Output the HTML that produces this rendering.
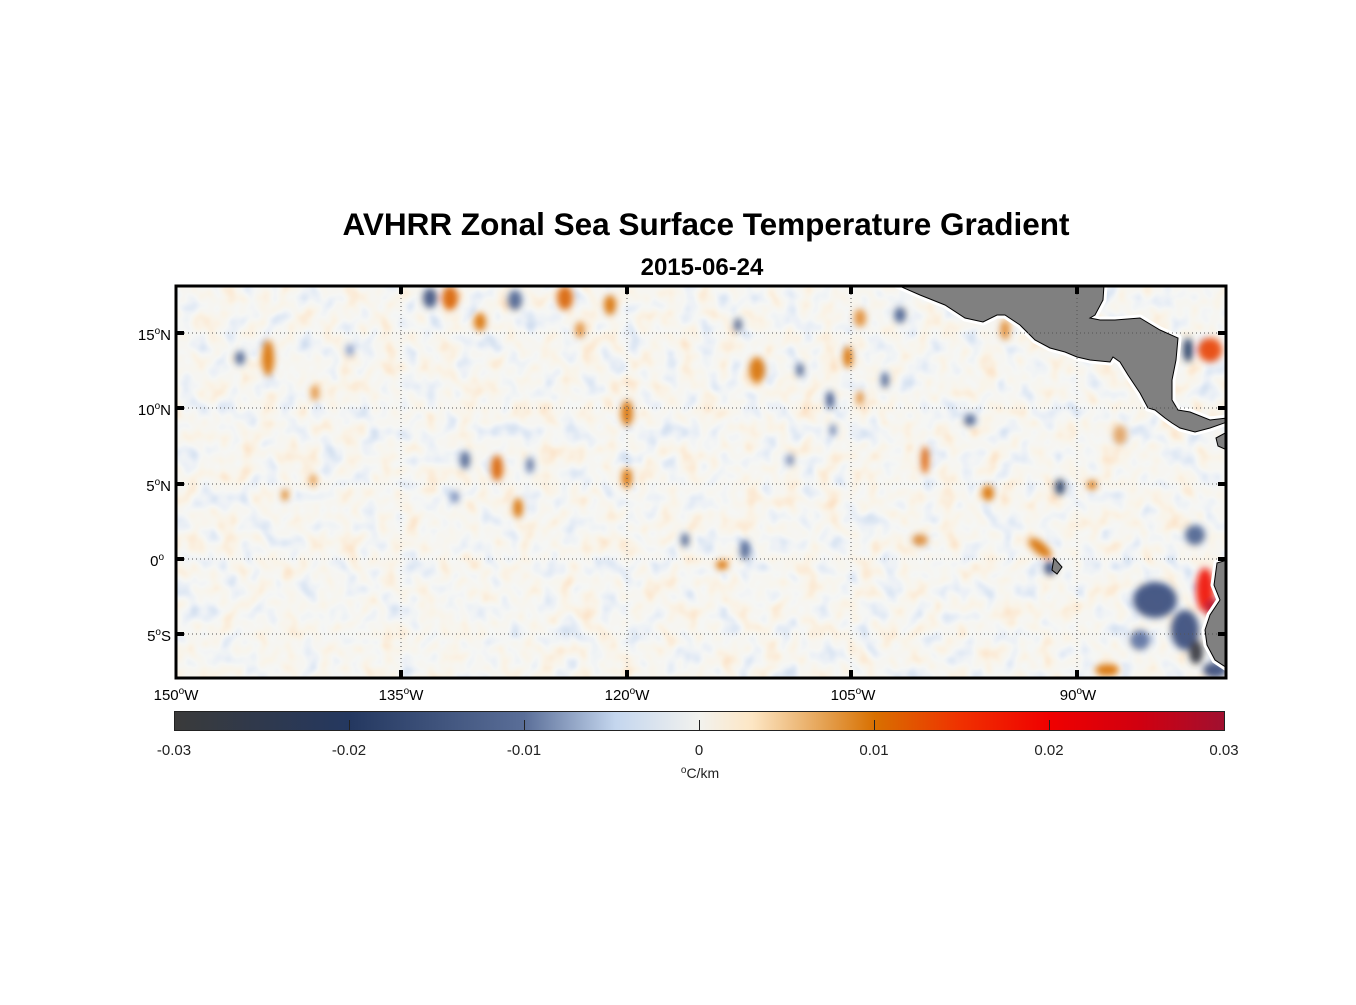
<!DOCTYPE html>
<html><head><meta charset="utf-8"><style>
body{margin:0;background:#fff;width:1356px;height:1000px;overflow:hidden;font-family:"Liberation Sans",sans-serif;}
</style></head><body>
<svg width="1356" height="1000" xmlns="http://www.w3.org/2000/svg" font-family="Liberation Sans, sans-serif">
<defs>
<filter id="b" x="-50%" y="-50%" width="200%" height="200%"><feGaussianBlur stdDeviation="3.5"/></filter>
<filter id="tex" x="0" y="0" width="100%" height="100%">
<feTurbulence type="fractalNoise" baseFrequency="0.05 0.045" numOctaves="2" seed="7" result="n"/>
<feColorMatrix in="n" type="matrix" values="1 0 0 0 0  1 0 0 0 0  1 0 0 0 0  0 0 0 0 1"/>
<feComponentTransfer>
<feFuncR type="table" tableValues="0.55 0.62 0.72 0.84 0.93 0.96 0.99 1 1 1"/>
<feFuncG type="table" tableValues="0.66 0.72 0.8 0.88 0.94 0.93 0.89 0.82 0.74 0.66"/>
<feFuncB type="table" tableValues="0.85 0.88 0.92 0.95 0.93 0.86 0.76 0.64 0.52 0.42"/>
</feComponentTransfer>
</filter>
<linearGradient id="cb" x1="0" x2="1" y1="0" y2="0">
<stop offset="0" stop-color="#3a3a3a"/><stop offset="0.167" stop-color="#243860"/>
<stop offset="0.333" stop-color="#5a6e98"/><stop offset="0.42" stop-color="#c4d6ee"/>
<stop offset="0.5" stop-color="#f2f2ee"/><stop offset="0.55" stop-color="#fde6c4"/>
<stop offset="0.62" stop-color="#e4a050"/><stop offset="0.667" stop-color="#d87000"/>
<stop offset="0.75" stop-color="#f03000"/><stop offset="0.833" stop-color="#f00000"/>
<stop offset="0.92" stop-color="#d00010"/><stop offset="1" stop-color="#a01030"/>
</linearGradient>
<clipPath id="m"><rect x="176" y="286" width="1050" height="392"/></clipPath>
</defs>
<text x="706" y="235" font-size="31.5" font-weight="bold" text-anchor="middle">AVHRR Zonal Sea Surface Temperature Gradient</text>
<text x="702" y="275" font-size="24" font-weight="bold" text-anchor="middle">2015-06-24</text>
<g clip-path="url(#m)">
<rect x="176" y="286" width="1050" height="392" fill="#eef0ed"/>
<rect x="176" y="286" width="1050" height="392" filter="url(#tex)" opacity="0.8"/>
<g filter="url(#b)" opacity="0.9">
<ellipse cx="268" cy="358" rx="6" ry="18" fill="#d87000"/>
<ellipse cx="315" cy="393" rx="4" ry="8" fill="#e08a30"/>
<ellipse cx="450" cy="298" rx="8" ry="12" fill="#d86000"/>
<ellipse cx="480" cy="322" rx="6" ry="9" fill="#d87000"/>
<ellipse cx="497" cy="468" rx="6" ry="13" fill="#d86000"/>
<ellipse cx="518" cy="508" rx="5" ry="10" fill="#d87000"/>
<ellipse cx="565" cy="298" rx="8" ry="12" fill="#d86000"/>
<ellipse cx="610" cy="305" rx="6" ry="10" fill="#d87000"/>
<ellipse cx="580" cy="330" rx="5" ry="8" fill="#e08a30"/>
<ellipse cx="627" cy="413" rx="6" ry="13" fill="#d87000"/>
<ellipse cx="627" cy="478" rx="5" ry="10" fill="#d87000"/>
<ellipse cx="757" cy="370" rx="8" ry="13" fill="#d87000"/>
<ellipse cx="848" cy="357" rx="5" ry="11" fill="#d87000"/>
<ellipse cx="860" cy="398" rx="4" ry="7" fill="#e08a30"/>
<ellipse cx="860" cy="318" rx="6" ry="9" fill="#e08a30"/>
<ellipse cx="925" cy="460" rx="4" ry="14" fill="#e06000"/>
<ellipse cx="988" cy="493" rx="6" ry="8" fill="#d87000"/>
<ellipse cx="1040" cy="548" rx="14" ry="6" transform="rotate(40 1040 548)" fill="#d87000"/>
<ellipse cx="1092" cy="485" rx="5" ry="5" fill="#d87000"/>
<ellipse cx="1005" cy="330" rx="5" ry="10" fill="#e08a30"/>
<ellipse cx="1120" cy="435" rx="7" ry="10" fill="#e0a060"/>
<ellipse cx="1210" cy="350" rx="12" ry="12" fill="#e84000"/>
<ellipse cx="1205" cy="590" rx="9" ry="22" fill="#f01000"/>
<ellipse cx="1214" cy="608" rx="9" ry="9" fill="#b01028"/>
<ellipse cx="1107" cy="670" rx="12" ry="6" fill="#d87000"/>
<ellipse cx="722" cy="565" rx="6" ry="5" fill="#d87000"/>
<ellipse cx="920" cy="540" rx="8" ry="6" fill="#e08a30"/>
<ellipse cx="285" cy="495" rx="3" ry="6" fill="#d87000"/>
<ellipse cx="313" cy="480" rx="3" ry="6" fill="#e08a30"/>
<ellipse cx="240" cy="358" rx="5" ry="7" fill="#4a6090"/>
<ellipse cx="430" cy="298" rx="7" ry="10" fill="#3a5080"/>
<ellipse cx="515" cy="300" rx="7" ry="10" fill="#4a6090"/>
<ellipse cx="465" cy="460" rx="5" ry="9" fill="#4a6090"/>
<ellipse cx="530" cy="465" rx="4" ry="8" fill="#5a70a0"/>
<ellipse cx="830" cy="400" rx="4" ry="9" fill="#3a5080"/>
<ellipse cx="833" cy="430" rx="3" ry="6" fill="#5a70a0"/>
<ellipse cx="1060" cy="487" rx="5" ry="8" fill="#243860"/>
<ellipse cx="1050" cy="568" rx="6" ry="7" fill="#3a5080"/>
<ellipse cx="1188" cy="350" rx="5" ry="12" fill="#243860"/>
<ellipse cx="1155" cy="600" rx="22" ry="18" fill="#34487a"/>
<ellipse cx="1185" cy="630" rx="14" ry="20" fill="#34487a"/>
<ellipse cx="1196" cy="652" rx="7" ry="12" fill="#303038"/>
<ellipse cx="1140" cy="640" rx="10" ry="10" fill="#5a70a0"/>
<ellipse cx="1195" cy="535" rx="10" ry="10" fill="#4a6090"/>
<ellipse cx="1215" cy="670" rx="12" ry="8" fill="#34487a"/>
<ellipse cx="745" cy="550" rx="5" ry="10" fill="#4a6090"/>
<ellipse cx="685" cy="540" rx="4" ry="7" fill="#4a6090"/>
<ellipse cx="970" cy="420" rx="6" ry="6" fill="#4a6090"/>
<ellipse cx="885" cy="380" rx="4" ry="8" fill="#4a6090"/>
<ellipse cx="738" cy="325" rx="4" ry="7" fill="#4a6090"/>
<ellipse cx="800" cy="370" rx="4" ry="7" fill="#4a6090"/>
<ellipse cx="900" cy="315" rx="6" ry="8" fill="#4a6090"/>
<ellipse cx="790" cy="460" rx="4" ry="6" fill="#6a80b0"/>
<ellipse cx="455" cy="497" rx="4" ry="6" fill="#6a80b0"/>
<ellipse cx="350" cy="350" rx="4" ry="6" fill="#7a90c0"/>
</g>
<g fill="#808080" stroke="#fff" stroke-width="7" stroke-linejoin="round">
<path d="M897,285 L920,295 L945,305 L965,318 L983,322 L997,315 L1005,315 L1020,325 L1035,340 L1050,348 L1065,352 L1077,357 L1090,360 L1110,362 L1113,357 L1120,362 L1128,375 L1140,393 L1148,408 L1155,410 L1165,418 L1172,423 L1180,428 L1195,432 L1210,428 L1227,422 L1227,418 L1210,420 L1190,412 L1178,410 L1172,400 L1172,380 L1176,360 L1178,338 L1160,330 L1140,318 L1115,320 L1100,320 L1090,318 L1095,315 L1103,300 L1104,285 Z"/>
<path d="M1227,560 L1217,563 L1214,585 L1220,600 L1210,615 L1205,630 L1207,645 L1215,660 L1227,668 Z"/>
</g>
<path d="M897,285 L920,295 L945,305 L965,318 L983,322 L997,315 L1005,315 L1020,325 L1035,340 L1050,348 L1065,352 L1077,357 L1090,360 L1110,362 L1113,357 L1120,362 L1128,375 L1140,393 L1148,408 L1155,410 L1165,418 L1172,423 L1180,428 L1195,432 L1210,428 L1227,422 L1227,418 L1210,420 L1190,412 L1178,410 L1172,400 L1172,380 L1176,360 L1178,338 L1160,330 L1140,318 L1115,320 L1100,320 L1090,318 L1095,315 L1103,300 L1104,285 Z" fill="#808080" stroke="#000" stroke-width="1"/>
<path d="M1216,438 L1227,432 L1227,450 L1218,446 Z" fill="#808080" stroke="#000"/>
<path d="M1227,560 L1217,563 L1214,585 L1220,600 L1210,615 L1205,630 L1207,645 L1215,660 L1227,668 Z" fill="#808080" stroke="#000"/>
<path d="M1054,558 L1062,567 L1057,574 L1052,570 Z" fill="#808080" stroke="#000"/>
<g stroke="#555" stroke-width="1" stroke-dasharray="1,3">
<line x1="401" y1="286" x2="401" y2="678"/><line x1="627" y1="286" x2="627" y2="678"/>
<line x1="851" y1="286" x2="851" y2="678"/><line x1="1077" y1="286" x2="1077" y2="678"/>
<line x1="176" y1="333" x2="1226" y2="333"/><line x1="176" y1="408" x2="1226" y2="408"/>
<line x1="176" y1="484" x2="1226" y2="484"/><line x1="176" y1="559" x2="1226" y2="559"/>
<line x1="176" y1="634" x2="1226" y2="634"/>
</g>
</g>
<rect x="176" y="286" width="1050" height="392" fill="none" stroke="#000" stroke-width="3"/>
<g stroke="#000" stroke-width="4">
<line x1="401" y1="286" x2="401" y2="294"/><line x1="627" y1="286" x2="627" y2="294"/><line x1="851" y1="286" x2="851" y2="294"/><line x1="1077" y1="286" x2="1077" y2="294"/>
<line x1="401" y1="670" x2="401" y2="678"/><line x1="627" y1="670" x2="627" y2="678"/><line x1="851" y1="670" x2="851" y2="678"/><line x1="1077" y1="670" x2="1077" y2="678"/>
<line x1="176" y1="333" x2="184" y2="333"/><line x1="176" y1="408" x2="184" y2="408"/><line x1="176" y1="484" x2="184" y2="484"/><line x1="176" y1="559" x2="184" y2="559"/><line x1="176" y1="634" x2="184" y2="634"/>
<line x1="1218" y1="333" x2="1226" y2="333"/><line x1="1218" y1="408" x2="1226" y2="408"/><line x1="1218" y1="484" x2="1226" y2="484"/><line x1="1218" y1="559" x2="1226" y2="559"/><line x1="1218" y1="634" x2="1226" y2="634"/>
</g>
<g font-size="15" text-anchor="end">
<text x="171" y="340">15<tspan dy="-6" font-size="10">o</tspan><tspan dy="6">N</tspan></text>
<text x="171" y="415">10<tspan dy="-6" font-size="10">o</tspan><tspan dy="6">N</tspan></text>
<text x="171" y="491">5<tspan dy="-6" font-size="10">o</tspan><tspan dy="6">N</tspan></text>
<text x="164" y="566">0<tspan dy="-6" font-size="10">o</tspan></text>
<text x="171" y="641">5<tspan dy="-6" font-size="10">o</tspan><tspan dy="6">S</tspan></text>
</g>
<g font-size="15" text-anchor="middle">
<text x="176" y="700">150<tspan dy="-6" font-size="10">o</tspan><tspan dy="6">W</tspan></text>
<text x="401" y="700">135<tspan dy="-6" font-size="10">o</tspan><tspan dy="6">W</tspan></text>
<text x="627" y="700">120<tspan dy="-6" font-size="10">o</tspan><tspan dy="6">W</tspan></text>
<text x="853" y="700">105<tspan dy="-6" font-size="10">o</tspan><tspan dy="6">W</tspan></text>
<text x="1078" y="700">90<tspan dy="-6" font-size="10">o</tspan><tspan dy="6">W</tspan></text>
</g>
<rect x="174.5" y="711.5" width="1050" height="19" fill="url(#cb)" stroke="#222" stroke-width="1"/>
<g stroke="#222" stroke-width="1">
<line x1="349.5" y1="720" x2="349.5" y2="730"/><line x1="524.5" y1="720" x2="524.5" y2="730"/><line x1="699.5" y1="720" x2="699.5" y2="730"/><line x1="874.5" y1="720" x2="874.5" y2="730"/><line x1="1049.5" y1="720" x2="1049.5" y2="730"/>
</g>
<g font-size="15" text-anchor="middle" fill="#222">
<text x="174" y="755">-0.03</text><text x="349" y="755">-0.02</text><text x="524" y="755">-0.01</text><text x="699" y="755">0</text><text x="874" y="755">0.01</text><text x="1049" y="755">0.02</text><text x="1224" y="755">0.03</text>
<text x="700" y="778" font-size="14"><tspan font-size="10" dy="-5">o</tspan><tspan dy="5">C/km</tspan></text>
</g>
</svg>
</body></html>
